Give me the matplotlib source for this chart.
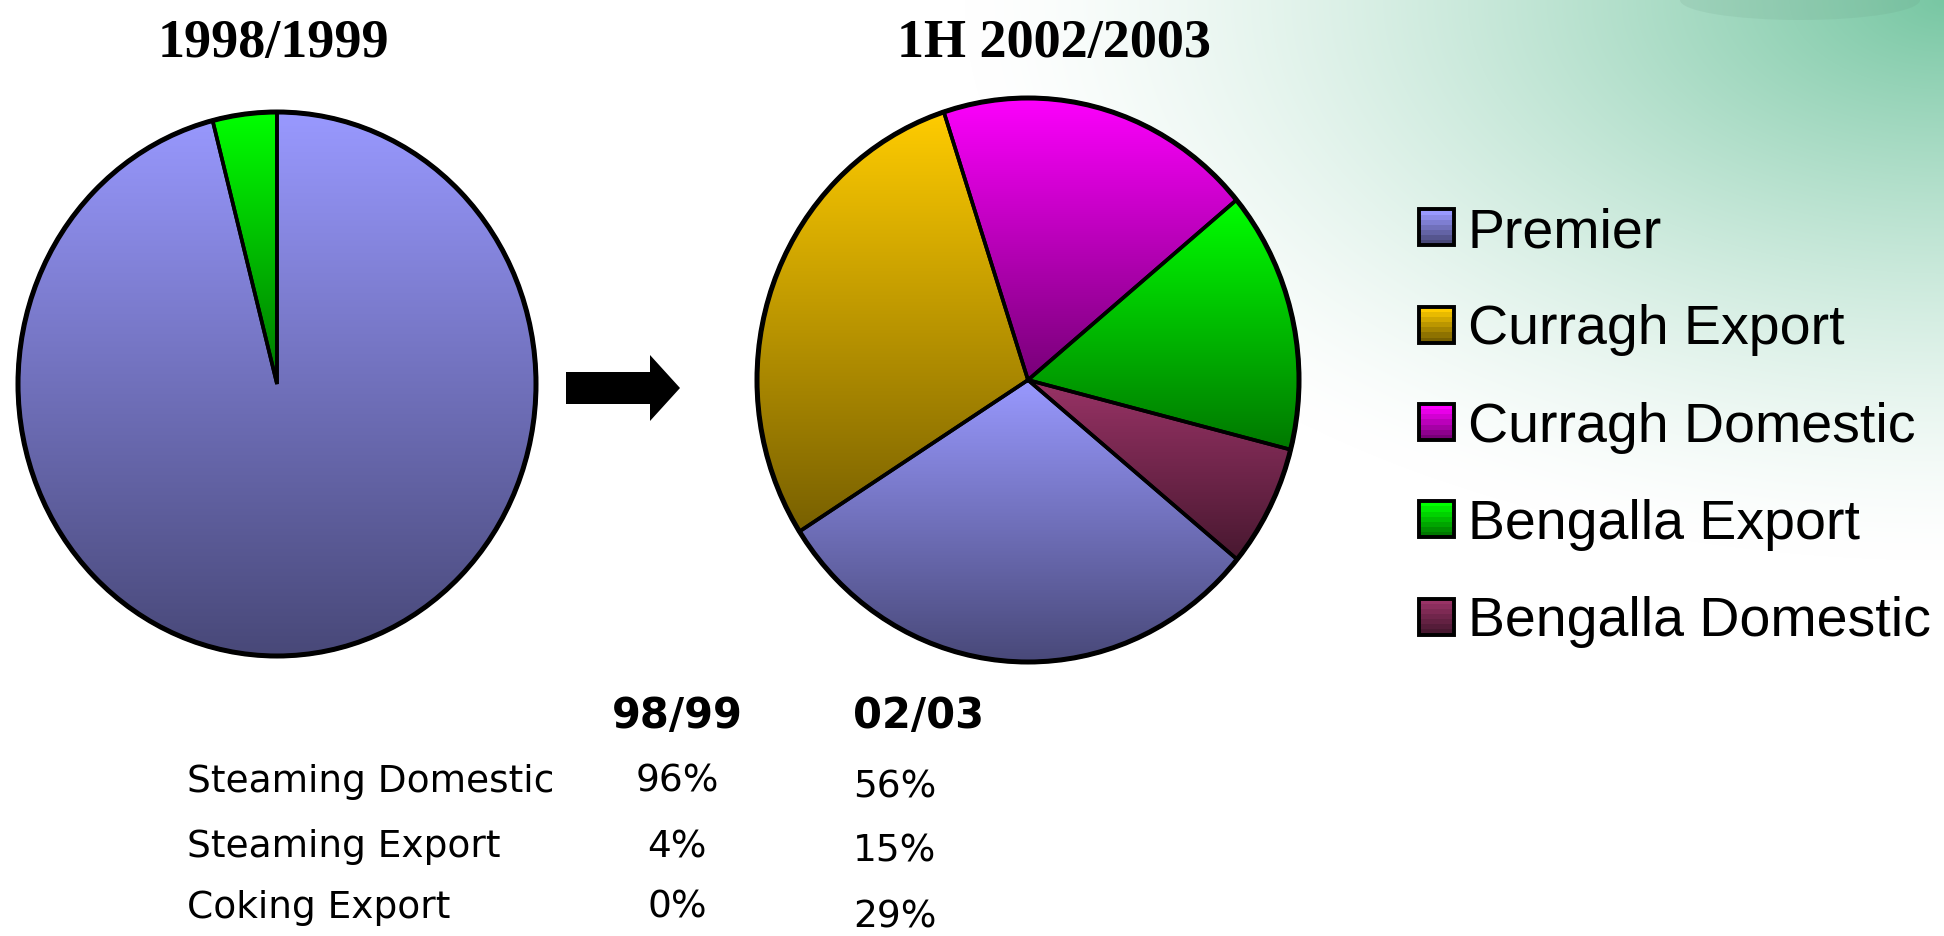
import matplotlib
matplotlib.use("Agg")
import matplotlib.pyplot as plt
import numpy as np
from matplotlib.colors import LinearSegmentedColormap, to_rgb
from matplotlib.legend_handler import HandlerBase
from matplotlib.patches import Circle, Ellipse, Patch, Polygon, Rectangle


CATEGORIES = ["Premier", "Curragh Export", "Curragh Domestic",
              "Bengalla Export", "Bengalla Domestic"]
COLORS = ["#9999FF", "#FFCC00", "#FF00FF", "#00FF00", "#993366"]
SHARE_9899 = [96, 0, 0, 4, 0]
SHARE_0203 = [30, 29, 19, 15, 7]
TITLES = ["1998/1999", "1H 2002/2003"]

TABLE_ROWS = ["Steaming Domestic", "Steaming Export", "Coking Export"]
TABLE_COLS = ["98/99", "02/03"]
TABLE_9899 = ["96%", "4%", "0%"]
TABLE_0203 = ["56%", "15%", "29%"]

DARK = 0.47          # bottom of each gradient, as a fraction of the base colour
W, H = 1944, 936     # output size in pixels


def fx(px):
    return px / W


def fy(py):
    return 1 - py / H


def shade(color, n):
    base = np.array(to_rgb(color))
    return [base * (1 - (1 - DARK) * k / (n - 1)) for k in range(n)]


def pie_axes(cx, cy, rx, ry, pad=30):
    # axes whose unit circle lands on an rx x ry pixel ellipse centred at (cx, cy)
    hw, hh = rx + pad, ry + pad
    ax = fig.add_axes([fx(cx - hw), fy(cy + hh), 2 * hw / W, 2 * hh / H])
    return ax, hw / rx, hh / ry


def gradient_pie(ax, values, startangle, xr, yr):
    keep = [i for i, v in enumerate(values) if v > 0]
    wedges, _ = ax.pie([values[i] for i in keep],
                       colors=[COLORS[i] for i in keep],
                       startangle=startangle, counterclock=False,
                       wedgeprops=dict(edgecolor="black", linewidth=2.6))
    grad = np.linspace(0, 1, 256).reshape(-1, 1)
    for w, i in zip(wedges, keep):
        base = np.array(to_rgb(COLORS[i]))
        cmap = LinearSegmentedColormap.from_list("g", [base * DARK, base])
        v = w.get_path().vertices
        im = ax.imshow(grad, cmap=cmap, origin="lower", aspect="auto",
                       extent=[v[:, 0].min(), v[:, 0].max(),
                               v[:, 1].min(), v[:, 1].max()],
                       interpolation="bilinear", zorder=1)
        im.set_clip_path(w)
        w.set_facecolor("none")
        w.set_zorder(2)
    ax.add_patch(Circle((0, 0), 1, fill=False, ec="black", lw=3.6, zorder=3))
    ax.set_aspect("auto")
    ax.set_xlim(-xr, xr)
    ax.set_ylim(-yr, yr)
    ax.axis("off")


class GradientSquare(HandlerBase):
    def create_artists(self, legend, orig_handle, xdescent, ydescent,
                       width, height, fontsize, trans):
        n = 7
        x0, y0 = -xdescent, -ydescent
        arts = []
        for k, c in enumerate(shade(orig_handle.get_facecolor(), n)):
            arts.append(Rectangle((x0, y0 + height - (k + 1) * height / n),
                                  width, height / n, fc=c, ec="none",
                                  transform=trans))
        arts.append(Rectangle((x0, y0), width, height, fill=False,
                              ec="black", lw=2.8, transform=trans))
        return arts


fig = plt.figure(figsize=(W / 100, H / 100), dpi=100)
fig.patch.set_facecolor("white")

# green wash in the top right corner
bg = fig.add_axes([0, 0, 1, 1], zorder=-10)
yy, xx = np.mgrid[0:H, 0:W]
t = np.sqrt(((W - xx) / 980) ** 2 + (yy / 560) ** 2)
a = np.clip(1 - t, 0, 1) ** 1.4
green = np.array([0.47, 0.78, 0.64])
bg.imshow(1 - a[..., None] * (1 - green), extent=[0, W, H, 0], aspect="auto")
bg.add_patch(Ellipse((1800, 0), 240, 40, fc="#5f8f78", ec="none", alpha=0.12))
bg.set_xlim(0, W)
bg.set_ylim(H, 0)
bg.axis("off")

# left pie
ax1, xr, yr = pie_axes(277, 384, 259, 272)
gradient_pie(ax1, SHARE_9899, 90, xr, yr)

# right pie
ax2, xr, yr = pie_axes(1028, 380, 271, 282)
gradient_pie(ax2, SHARE_0203, -39.5, xr, yr)

for x, title in zip([273, 1054], TITLES):
    fig.text(fx(x), fy(57), title, ha="center", va="baseline",
             family="Liberation Serif", weight="bold", fontsize=39)

# block arrow between the pies
arrow = [(566, 372), (650, 372), (650, 355), (680, 388),
         (650, 421), (650, 404), (566, 404)]
fig.add_artist(Polygon([(fx(x), fy(y)) for x, y in arrow], closed=True,
                       fc="black", ec="none", transform=fig.transFigure))

handles = [Patch(facecolor=c) for c in COLORS]
fig.legend(handles, CATEGORIES, handler_map={Patch: GradientSquare()},
           loc="upper left", bbox_to_anchor=(fx(1419), fy(207)),
           frameon=False, prop=dict(family="Liberation Sans", size=40),
           handlelength=0.63, handleheight=0.62, handletextpad=0.25,
           labelspacing=0.815, borderpad=0, borderaxespad=0)

# summary table
tprops = dict(family="DejaVu Sans", va="baseline")
fig.text(fx(677), fy(728), TABLE_COLS[0], ha="center", weight="bold",
         fontsize=30, **tprops)
fig.text(fx(853), fy(728), TABLE_COLS[1], ha="left", weight="bold",
         fontsize=30, **tprops)
for row, v1, v2, y1, y2 in zip(TABLE_ROWS, TABLE_9899, TABLE_0203,
                               [792, 857, 918], [797, 862, 927]):
    fig.text(fx(187), fy(y1), row, ha="left", fontsize=27, **tprops)
    fig.text(fx(677), fy(y1), v1, ha="center", fontsize=27, **tprops)
    fig.text(fx(853), fy(y2), v2, ha="left", fontsize=27, **tprops)

fig.savefig("out.png", dpi=100)
